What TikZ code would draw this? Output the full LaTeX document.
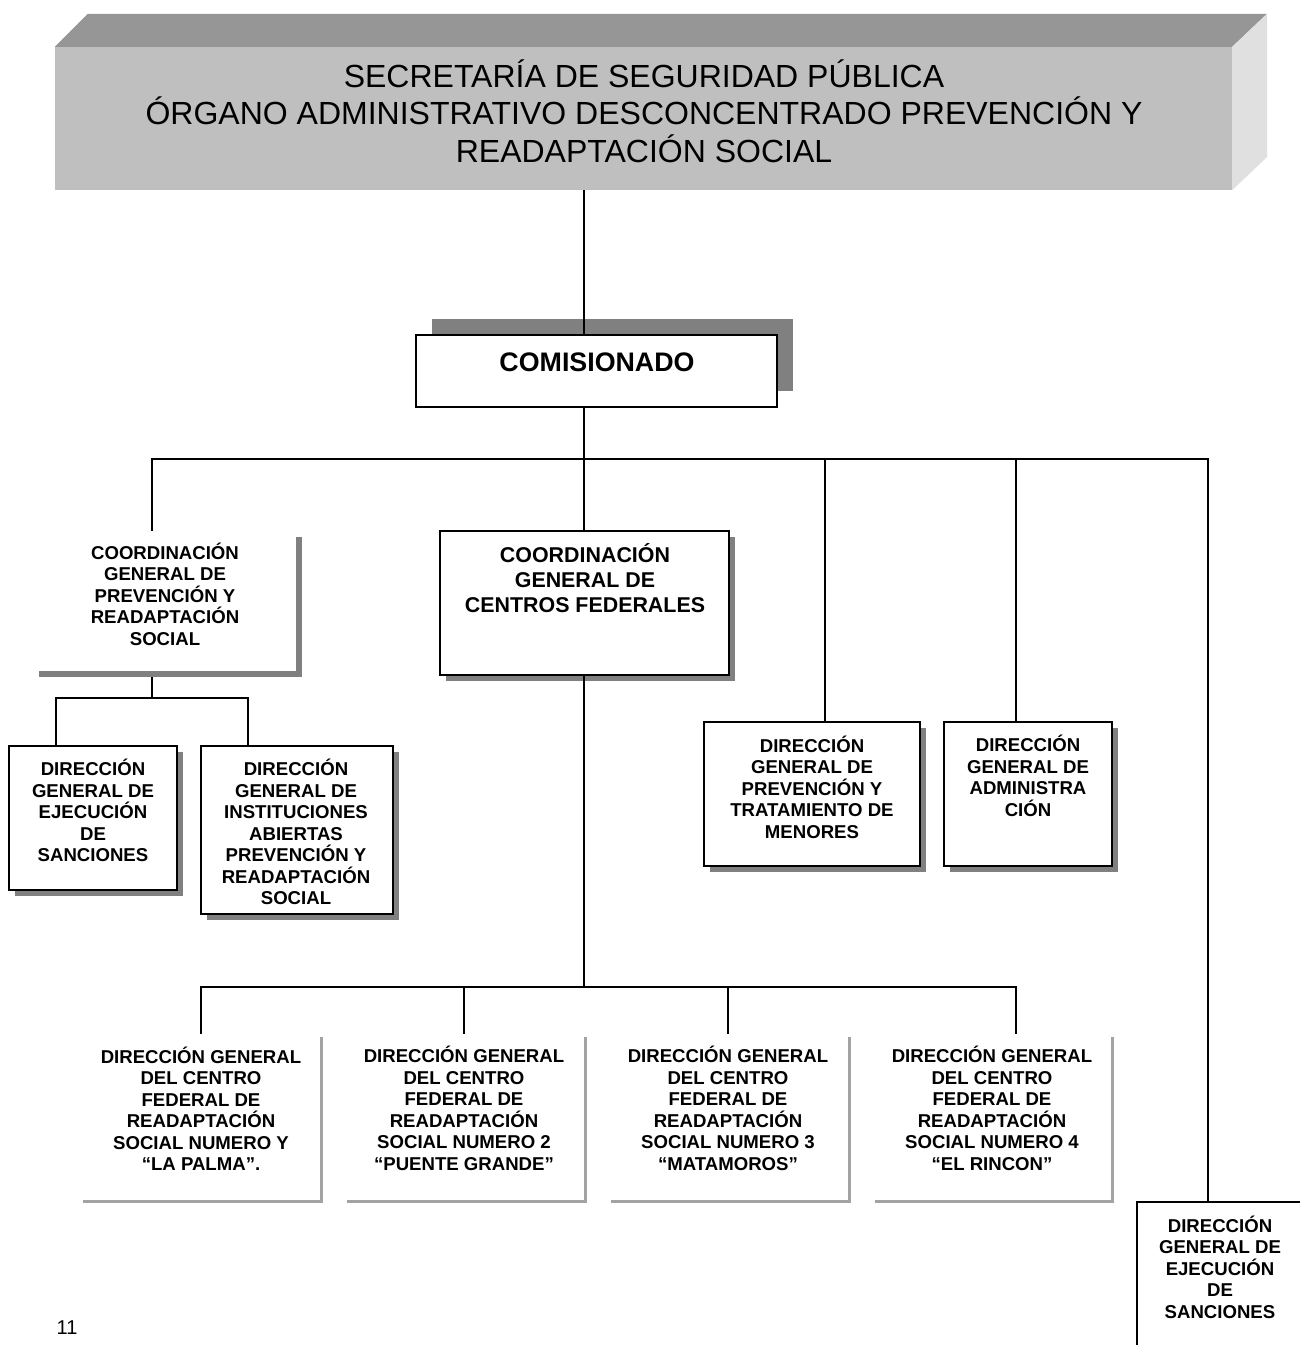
\documentclass[tikz,border=0pt]{standalone}
\usepackage{fontspec}
\setmainfont{Liberation Sans}
\usetikzlibrary{shadows}
\definecolor{shd}{gray}{0.5}
\definecolor{shdl}{gray}{0.64}
\definecolor{tfront}{gray}{0.75}
\definecolor{ttop}{gray}{0.59}
\definecolor{tside}{gray}{0.88}
\begin{document}
\begin{tikzpicture}[x=1pt,y=-1pt,
  conn/.style={line width=1.5pt},
  frame/.style={draw, line width=1.8pt, fill=white, inner sep=0pt},
  plain/.style={fill=white, inner sep=0pt},
  dshadow/.style={drop shadow={shadow xshift=6pt, shadow yshift=-6pt, fill=shd, opacity=1}},
  lshadow/.style={drop shadow={shadow xshift=3pt, shadow yshift=-3pt, fill=shdl, opacity=1}},
  lbl/.style={align=center, inner sep=0pt, font=\fontsize{18.6}{21.5}\selectfont\bfseries},
]
\clip (0,0) rectangle (1300,1345);
\fill[white] (0,0) rectangle (1300,1345);

% title block
\node[fill=tfront, inner sep=0pt, minimum width=1177pt, minimum height=143pt] (title) at (643.5,118.5) {};
\fill[ttop] (title.north west) -- ++(33,-33) -- ++(1179,0) -- (title.north east) -- cycle;
\fill[tside] (title.north east) -- ++(35,-33) -- ++(0,143) -- (title.south east) -- cycle;
\node[align=center, inner sep=0pt, font=\fontsize{32}{37.5}\selectfont] (ttl) at (644,111)
  {SECRETARÍA DE SEGURIDAD PÚBLICA\\ÓRGANO ADMINISTRATIVO DESCONCENTRADO PREVENCIÓN Y\\READAPTACIÓN SOCIAL};

% comisionado
\node[frame, minimum width=361pt, minimum height=72pt,
  drop shadow={shadow xshift=16pt, shadow yshift=16pt, fill=shd, opacity=1}] (comis) at (596.5,371) {};
\node[inner sep=0pt, font=\fontsize{26.8}{31}\selectfont\bfseries] (comist) at (597,362) {COMISIONADO};

% second level
\node[plain, dshadow, minimum width=263pt, minimum height=140pt] (cprev) at (164.5,601) {};
\node[lbl] (cprevt) at (165,594) {COORDINACIÓN\\GENERAL DE\\PREVENCIÓN Y\\READAPTACIÓN\\SOCIAL};

\node[frame, dshadow, minimum width=289pt, minimum height=144pt] (cent) at (584.5,603) {};
\node[align=center, inner sep=0pt, font=\fontsize{21.4}{25}\selectfont\bfseries] (centt) at (585,578) {COORDINACIÓN\\GENERAL DE\\CENTROS FEDERALES};

\node[frame, dshadow, minimum width=216pt, minimum height=144pt] (men) at (812,794) {};
\node[lbl] (ment) at (812,787) {DIRECCIÓN\\GENERAL DE\\PREVENCIÓN Y\\TRATAMIENTO DE\\MENORES};

\node[frame, dshadow, minimum width=168pt, minimum height=144pt] (adm) at (1028,794) {};
\node[lbl] (admt) at (1028,776) {DIRECCIÓN\\GENERAL DE\\ADMINISTRA\\CIÓN};

% third level left
\node[frame, dshadow, minimum width=168pt, minimum height=144pt] (ejec) at (93,818) {};
\node[lbl] (eject) at (93,810.5) {DIRECCIÓN\\GENERAL DE\\EJECUCIÓN\\DE\\SANCIONES};

\node[frame, dshadow, minimum width=192pt, minimum height=168pt] (inst) at (297,830) {};
\node[lbl] (instt) at (296,832) {DIRECCIÓN\\GENERAL DE\\INSTITUCIONES\\ABIERTAS\\PREVENCIÓN Y\\READAPTACIÓN\\SOCIAL};

% bottom level
\node[plain, lshadow, minimum width=240pt, minimum height=166pt] (d1) at (200,1117) {};
\node[plain, lshadow, minimum width=240pt, minimum height=166pt] (d2) at (464,1117) {};
\node[plain, lshadow, minimum width=240pt, minimum height=166pt] (d3) at (728,1117) {};
\node[plain, lshadow, minimum width=239pt, minimum height=166pt] (d4) at (991.5,1117) {};
\node[lbl] (d1t) at (201,1108.5) {DIRECCIÓN GENERAL\\DEL CENTRO\\FEDERAL DE\\READAPTACIÓN\\SOCIAL NUMERO Y\\“LA PALMA”.};
\node[lbl] (d2t) at (464,1108.5) {DIRECCIÓN GENERAL\\DEL CENTRO\\FEDERAL DE\\READAPTACIÓN\\SOCIAL NUMERO 2\\“PUENTE GRANDE”};
\node[lbl] (d3t) at (728,1108.5) {DIRECCIÓN GENERAL\\DEL CENTRO\\FEDERAL DE\\READAPTACIÓN\\SOCIAL NUMERO 3\\“MATAMOROS”};
\node[lbl] (d4t) at (992,1108.5) {DIRECCIÓN GENERAL\\DEL CENTRO\\FEDERAL DE\\READAPTACIÓN\\SOCIAL NUMERO 4\\“EL RINCON”};

% last box (cut by page edge)
\node[frame, minimum width=193pt, minimum height=178pt] (last) at (1233.5,1291) {};
\node[lbl] (lastt) at (1220,1267) {DIRECCIÓN\\GENERAL DE\\EJECUCIÓN\\DE\\SANCIONES};

% page number
\node[inner sep=0pt, font=\fontsize{20}{24}\selectfont] (pg) at (67,1328) {11};

% connector junctions
\coordinate (b1) at (584,459);
\coordinate (b1w) at (152,459);
\coordinate (b1e) at (1208,459);
\coordinate (b1m) at (825,459);
\coordinate (b1a) at (1016,459);
\coordinate (b2) at (152,698);
\coordinate (b2w) at (56,698);
\coordinate (b2e) at (248,698);
\coordinate (b3) at (584,987);
\coordinate (b3a) at (201,987);
\coordinate (b3b) at (464,987);
\coordinate (b3c) at (728,987);
\coordinate (b3d) at (1016,987);

% connectors
\draw[conn] (title.south -| b1) -- (comis.north -| b1);
\draw[conn] (comis.south -| b1) -- (b1);
\draw[conn] (b1w |- cprev.north) -- (b1w) -- (b1e) -- (b1e |- last.north);
\draw[conn] (b1) -- (b1 |- cent.north);
\draw[conn] (b1m) -- (b1m |- men.north);
\draw[conn] (b1a) -- (b1a |- adm.north);
\draw[conn] ([yshift=-6pt]cprev.south -| b2) -- (b2);
\draw[conn] (b2w |- ejec.north) -- (b2w) -- (b2e) -- (b2e |- inst.north);
\draw[conn] (cent.south -| b3) -- (b3);
\draw[conn] (b3a |- d1.north) -- (b3a) -- (b3d) -- (b3d |- d4.north);
\draw[conn] (b3b) -- (b3b |- d2.north);
\draw[conn] (b3c) -- (b3c |- d3.north);
\end{tikzpicture}
\end{document}
